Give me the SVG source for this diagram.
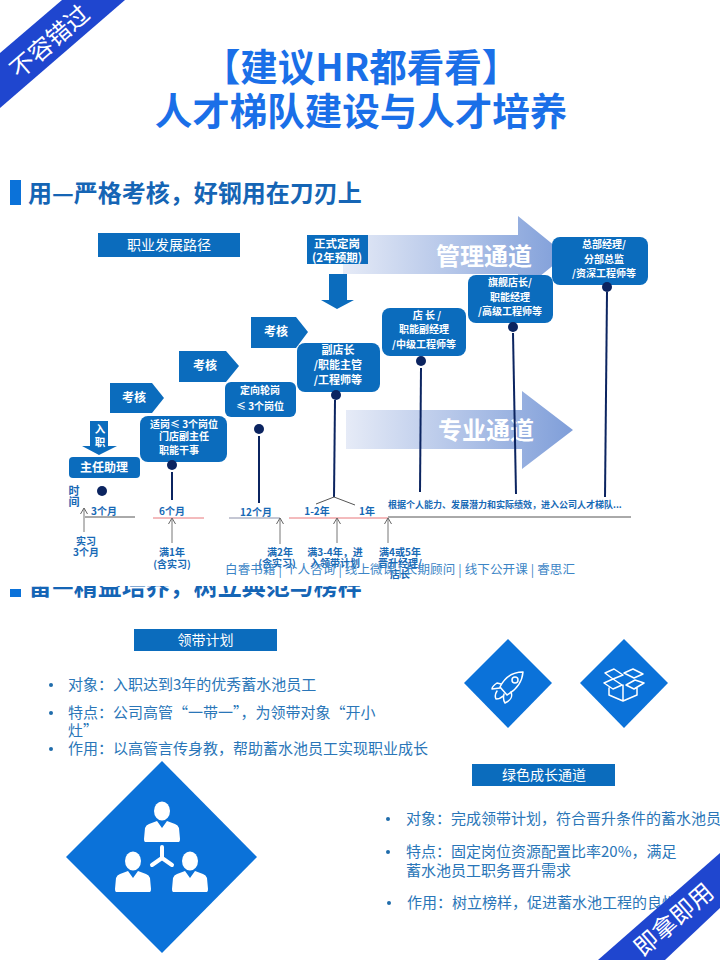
<svg xmlns="http://www.w3.org/2000/svg" width="720" height="960" viewBox="0 0 720 960">
<style>
text{font-family:"Noto Sans CJK SC","Noto Sans",sans-serif}
.c{text-anchor:middle}
.box{fill:#0b6cbd}
.w{fill:#fff}
.b{font-weight:700}
.lb{fill:#1769b5;font-weight:700;font-size:10px;text-anchor:middle}
.t{font-size:10.5px;fill:#fff;font-weight:700;text-anchor:middle}
.stem{stroke:#0b2460;stroke-width:2;fill:none}
.dot{fill:#0b2460}
.grey{stroke:#555;stroke-width:1;fill:none}
.tick{stroke:#777;stroke-width:1;fill:none;marker-end:url(#open)}
.red{stroke:#e8767a;stroke-width:1;fill:none}
.li{font-size:15px;fill:#2a76b8}
.bu{fill:#1f6cab}
.dia{fill:#0b72d9}
.ico{fill:none;stroke:#fff;stroke-width:1.5;stroke-linejoin:round;stroke-linecap:round}
.rib{fill:#1f46cf}
.ht{font-size:24px;font-weight:700;fill:#1565b5}
</style>
<defs>
<marker id="open" markerWidth="8" markerHeight="8" refX="7" refY="4" orient="auto" viewBox="0 0 8 8" markerUnits="userSpaceOnUse"><path d="M1,0.500L7,4L1,7.500" fill="none" stroke="#666" stroke-width="1"/></marker>
<linearGradient id="g" x1="0" x2="1" y1="0" y2="0"><stop offset="0" stop-color="#e6ebf7"/><stop offset="1" stop-color="#7f9ed9"/></linearGradient>
<clipPath id="hc"><rect x="0" y="586" width="720" height="30"/></clipPath>
<g id="person"><path d="M-17,31 Q-18,31 -18,28 L-17,17 Q-16,14 -13,13 L-5,10 L0,17 L5,10 L13,13 Q16,14 17,17 L18,28 Q18,31 17,31 Z" fill="#fff"/><ellipse cx="0" cy="0" rx="8" ry="9.5" fill="#fff"/></g>
</defs>
<rect width="720" height="960" fill="#fff"/>

<g id="title" class="c" font-weight="700" font-size="37.500" fill="#1a6fe8">
<text x="361" y="81">【建议HR都看看】</text>
<text x="361" y="125">人才梯队建设与人才培养</text>
</g>
<g id="heading-1"><rect x="10" y="180" width="11" height="25" fill="#0b72d9"/><text class="ht" x="28" y="202">用—严格考核，好钢用在刀刃上</text></g>

<g id="node-path-title"><rect class="box" x="98" y="233" width="142" height="24"/><text class="c w" x="169" y="250" font-size="14">职业发展路径</text></g>

<g id="channel-mgmt"><path d="M343,235H518V216L566,255L518,294V274H343Z" fill="url(#g)"/><text class="c w b" x="484" y="265" font-size="24">管理通道</text></g>
<g id="channel-pro"><path d="M346,410H522V391L573,430L522,469V449H346Z" fill="url(#g)"/><text class="c w b" x="486" y="439" font-size="24">专业通道</text></g>

<g id="node-fixed"><rect class="box" x="307" y="235" width="61" height="29"/><text class="t" x="337" y="248" style="font-size:11.500px">正式定岗</text><text class="t" x="337" y="262" style="font-size:11.500px">(2年预期)</text></g>
<g id="arrow-fixed"><path class="box" d="M329,274H347V300H354L337,309L321,300H329Z"/></g>

<g id="arrow-entry"><path class="box" d="M90,421H108V446H117L99,455L82,446H90Z"/><text class="t" x="100" y="433">入</text><text class="t" x="100" y="446">职</text></g>
<g id="node-zhuren"><rect class="box" x="69" y="457" width="71" height="21" rx="4"/><text class="t" x="104" y="472" style="font-size:12px">主任助理</text></g>

<g id="assess-1"><path class="box" d="M110,383H152L164,398L152,413H110Z"/><text class="t" x="134" y="402" style="font-size:12px">考核</text></g>
<g id="assess-2"><path class="box" d="M179,351H226L239,366L226,382H179Z"/><text class="t" x="205" y="370" style="font-size:12px">考核</text></g>
<g id="assess-3"><path class="box" d="M251,317H296L308,332L296,348H251Z"/><text class="t" x="276" y="336" style="font-size:12px">考核</text></g>

<g id="node-shigang"><rect class="box" x="140" y="416" width="87" height="46" rx="8"/><text class="t" x="184" y="428" style="font-size:10px">适岗≤ 3个岗位</text><text class="t" x="184" y="440" style="font-size:10px">门店副主任</text><text class="t" x="179" y="454" style="font-size:10px">职能干事</text></g>
<g id="node-dingxiang"><rect class="box" x="225" y="382" width="71" height="35" rx="6"/><text class="t" x="260" y="394" style="font-size:10px">定向轮岗</text><text class="t" x="260" y="410" style="font-size:10px">≤ 3个岗位</text></g>
<g id="node-fudian"><rect class="box" x="297" y="343" width="83" height="49" rx="8"/><text class="t" x="338" y="354" style="font-size:11px">副店长</text><text class="t" x="338" y="369" style="font-size:11px">/职能主管</text><text class="t" x="338" y="384" style="font-size:11px">/工程师等</text></g>
<g id="node-dianzhang"><rect class="box" x="382" y="308" width="84" height="48" rx="8"/><text class="t" x="427" y="319" style="font-size:10px">店 长 /</text><text class="t" x="424" y="333" style="font-size:10px">职能副经理</text><text class="t" x="424" y="348" style="font-size:10px">/中级工程师等</text></g>
<g id="node-qijian"><rect class="box" x="468" y="275" width="85" height="48" rx="8"/><text class="t" x="510" y="286" style="font-size:10px">旗舰店长/</text><text class="t" x="510" y="301" style="font-size:10px">职能经理</text><text class="t" x="510" y="315" style="font-size:10px">/高级工程师等</text></g>
<g id="node-zongbu"><rect class="box" x="552" y="237" width="96" height="48" rx="8"/><text class="t" x="604" y="248" style="font-size:10px">总部经理/</text><text class="t" x="604" y="263" style="font-size:10px">分部总监</text><text class="t" x="604" y="277" style="font-size:10px">/资深工程师等</text></g>

<g id="connectors">
<circle class="dot" cx="102" cy="491" r="5"/>
<circle class="dot" cx="172" cy="465" r="5"/><path class="stem" d="M172,472V500"/>
<circle class="dot" cx="259" cy="429" r="5"/><path class="stem" d="M259,436V503"/>
<circle class="dot" cx="336" cy="395" r="5"/><path class="stem" d="M335,400L334,497"/>
<path class="grey" d="M316,504L334,497L355,505"/>
<circle class="dot" cx="421" cy="361" r="5"/><path class="stem" d="M421,368L420,492"/>
<circle class="dot" cx="513" cy="327" r="5"/><path class="stem" d="M513,333L516,494"/>
<circle class="dot" cx="607" cy="287" r="5"/><path class="stem" d="M607,292L605,497"/>
<path class="grey" d="M85,517H135M388,517H631"/>
<path class="red" d="M153,518H204M289,518H388"/>
<path d="M229,518H280" stroke="#8a8fa8" fill="none"/>
<path class="tick" d="M84,532V508"/>
<path class="tick" d="M172,543V518"/>
<path class="tick" d="M280,544V518"/>
<path class="tick" d="M337,543V518"/>
<path class="tick" d="M388,543V518"/>
</g>

<g id="timeline-labels">
<text class="lb" x="74" y="495" style="font-size:11px">时</text><text class="lb" x="74" y="506" style="font-size:11px">间</text>
<text class="lb" x="104" y="515">3个月</text>
<text class="lb" x="172" y="515">6个月</text>
<text class="lb" x="256" y="516">12个月</text>
<text class="lb" x="317" y="515">1-2年</text>
<text class="lb" x="367" y="515">1年</text>
<text class="lb" x="388" y="508" style="font-size:9px;text-anchor:start">根据个人能力、发展潜力和实际绩效，进入公司人才梯队...</text>
<text class="lb" x="86" y="545">实习</text><text class="lb" x="86" y="556">3个月</text>
<text class="lb" x="172" y="556">满1年</text><text class="lb" x="172" y="568">(含实习)</text>
<text class="lb" x="280" y="556">满2年</text><text class="lb" x="277" y="567">(含实习)</text>
<text class="lb" x="335" y="556">满3-4年，进</text><text class="lb" x="335" y="567">入领带计划</text>
<text class="lb" x="400" y="556">满4或5年</text><text class="lb" x="400" y="567">晋升经理/</text><text class="lb" x="400" y="578">店长</text>
</g>
<text id="brand-line" x="225" y="574" font-size="12.5" fill="#3c85c6" textLength="350" lengthAdjust="spacing">白睿书籍 | 个人咨询 | 线上微课 | 长期顾问 | 线下公开课 | 睿思汇</text>

<g id="heading-2"><rect x="10" y="589" width="11" height="8" fill="#0b72d9"/><text class="ht" x="28" y="595" clip-path="url(#hc)">留—精益培养，树立典范与榜样</text></g>

<g id="node-lingdai"><rect class="box" x="134" y="629" width="143" height="22"/><text class="c w" x="205.500" y="645" font-size="14">领带计划</text></g>
<g id="list-left">
<circle class="bu" cx="51" cy="685" r="2"/><text class="li" x="68" y="690">对象：入职达到3年的优秀蓄水池员工</text>
<circle class="bu" cx="51" cy="713" r="2"/><text class="li" x="68" y="718">特点：公司高管“一带一”，为领带对象“开小</text><text class="li" x="68" y="736">灶”</text>
<circle class="bu" cx="51" cy="749" r="2"/><text class="li" x="68" y="754">作用：以高管言传身教，帮助蓄水池员工实现职业成长</text>
</g>

<g id="icon-rocket"><path class="dia" d="M508,639L552,683L508,728L464,683Z"/>
<path class="ico" d="M523,672C513,672 505,677 500,687L507,695C516,690 522,683 523,672Z"/><circle class="ico" cx="515" cy="680" r="3"/>
<path class="ico" d="M501,684L497,683C494,685 492,687 492,689L500,688M511,692C513,697 511,700 505,703C503,700 503,698 504,694M497,691C495,694 495,697 496,699C499,699 501,698 503,696"/></g>
<g id="icon-box"><path class="dia" d="M624,639L668,683L624,728L580,683Z"/>
<path class="ico" d="M605,673L614,669L623,675L613,679ZM624,673L633,669L643,674L634,678ZM604,683L613,679L622,685L613,689ZM626,685L635,680L644,683L634,689ZM609,688V695L623,701L637,695V688M623,685V701"/></g>

<g id="node-green"><rect class="box" x="472" y="764" width="143" height="22"/><text class="c w" x="544" y="780" font-size="14">绿色成长通道</text></g>
<g id="list-right">
<circle class="bu" cx="388" cy="819" r="2"/><text class="li" x="406" y="824">对象：完成领带计划，符合晋升条件的蓄水池员</text>
<circle class="bu" cx="388" cy="852" r="2"/><text class="li" x="406" y="857">特点：固定岗位资源配置比率20%，满足</text><text class="li" x="406" y="876">蓄水池员工职务晋升需求</text>
<circle class="bu" cx="389" cy="903" r="2"/><text class="li" x="407" y="908">作用：树立榜样，促进蓄水池工程的良性</text>
</g>

<g id="icon-people"><path class="dia" d="M162,761L257,857L162,953L66,857Z"/>
<use href="#person" x="162" y="811"/><use href="#person" x="133" y="861"/><use href="#person" x="190" y="861"/>
<path d="M162,847V858L152,865M162,858L172,865" fill="none" stroke="#fff" stroke-width="4" stroke-linecap="round" stroke-linejoin="round"/></g>

<g id="ribbon-tl"><path class="rib" d="M0,53L62,0H125L0,108Z"/><text class="c w" font-size="24" transform="translate(50,42) rotate(-41)" y="8">不容错过</text></g>
<g id="ribbon-br"><path class="rib" d="M598,960L720,853V908L665,960Z"/><text class="c w" font-size="24" transform="translate(674,920) rotate(-41)" y="8">即拿即用</text></g>
</svg>
